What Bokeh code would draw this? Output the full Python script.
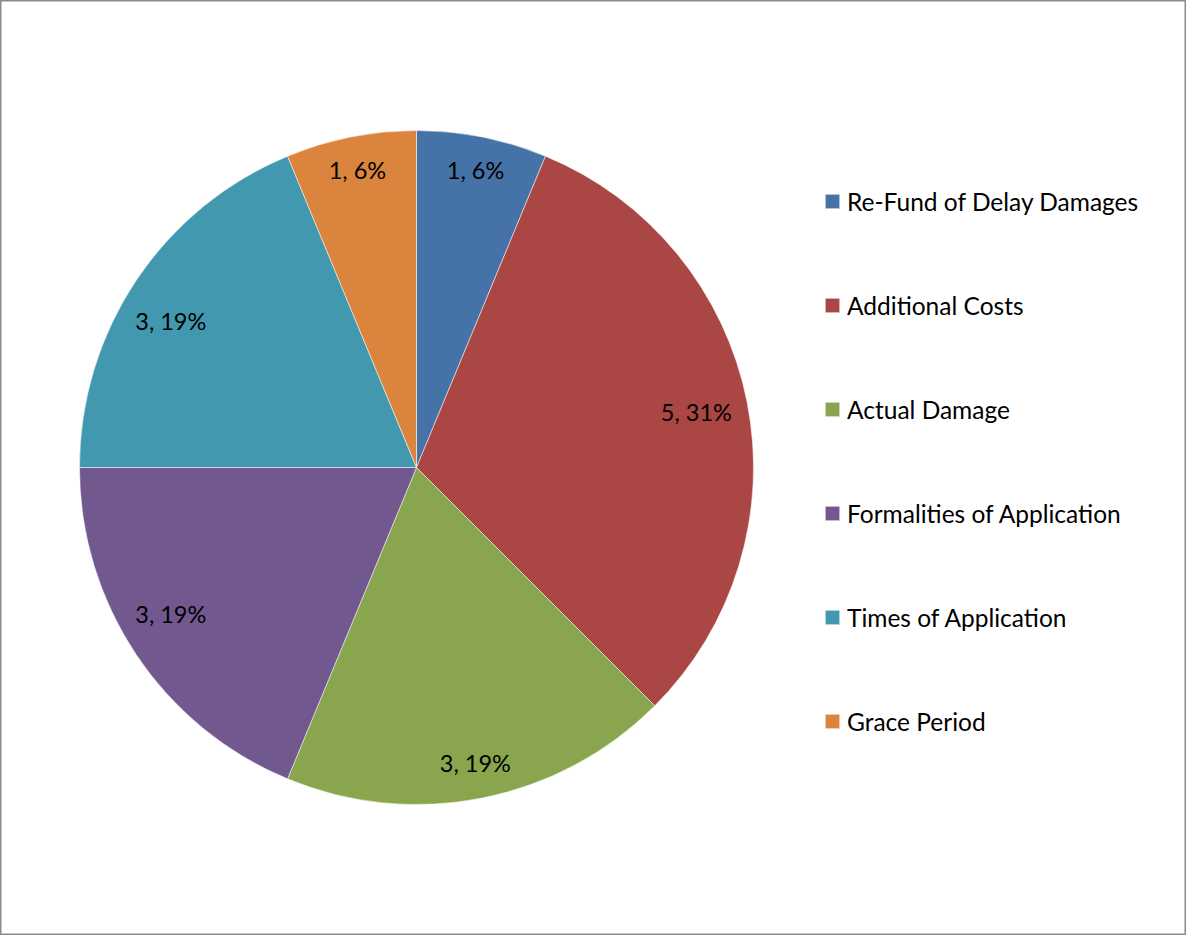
import math
from bokeh.plotting import figure
from bokeh.models import Range1d, ColumnDataSource, Legend, LegendItem
from bokeh.core.properties import value
from bokeh.embed import file_html
from bokeh.resources import INLINE

categories = ["Re-Fund of Delay Damages", "Additional Costs", "Actual Damage",
              "Formalities of Application", "Times of Application", "Grace Period"]
counts = [1, 5, 3, 3, 3, 1]
colors = ["#4572A7", "#AA4643", "#89A54E", "#71588F", "#4198AF", "#DB843D"]

FONT = "Lato"
W, H = 1186, 935
CX, CY = 424 - 8, 475 - 8  # pie centre in canvas pixels (from top-left)
R = 337

p = figure(width=W, height=H, output_backend="svg", toolbar_location=None,
           x_range=Range1d(-CX, W - CX), y_range=Range1d(-(H - CY), CY),
           min_border=0)
p.axis.visible = False
p.grid.visible = False
p.outline_line_color = "#8a8a8a"
p.outline_line_width = 2
p.background_fill_color = "white"
p.border_fill_color = "white"

total = sum(counts)
starts, ends, lx, ly, labels = [], [], [], [], []
a = math.pi / 2
for c in counts:
    frac = c / total
    s = a
    e = a - frac * 2 * math.pi
    starts.append(s)
    ends.append(e)
    mid = (s + e) / 2
    txt = f"{c}, {round(frac * 100)}%"
    hw = len(txt) * 5.5
    hh = 12
    ext = abs(math.cos(mid)) * hw + abs(math.sin(mid)) * hh
    rl = 320 - ext
    # nudge labels on the left side slightly away from the horizontal split
    if math.cos(mid) < -0.5:
        mid = mid + math.copysign(math.radians(3), math.sin(mid))
    lx.append(rl * math.cos(mid))
    ly.append(rl * math.sin(mid))
    labels.append(txt)
    a = e

src = ColumnDataSource(dict(start=starts, end=ends, color=colors, cat=categories))
r = p.wedge(x=0, y=0, radius=R, start_angle="start", end_angle="end",
            direction="clock", fill_color="color", line_color="white",
            line_width=1, line_alpha=0.5, source=src)

lsrc = ColumnDataSource(dict(x=lx, y=ly, t=labels))
p.text(x="x", y="y", text="t", source=lsrc, text_font=value(FONT),
       text_font_size="23.5px", text_align="center", text_baseline="middle",
       text_color="black")

items = [LegendItem(label=cat, renderers=[r], index=i) for i, cat in enumerate(categories)]
legend = Legend(items=items, location=(823, 199), orientation="vertical",
                label_text_font=FONT, label_text_font_size="24.5px",
                label_text_color="black", glyph_width=18, glyph_height=18,
                label_height=30, spacing=74, padding=0, margin=0,
                label_standoff=6, border_line_color=None,
                background_fill_alpha=0)
p.add_layout(legend, "center")

open("out.html", "w").write(file_html(p, INLINE))
